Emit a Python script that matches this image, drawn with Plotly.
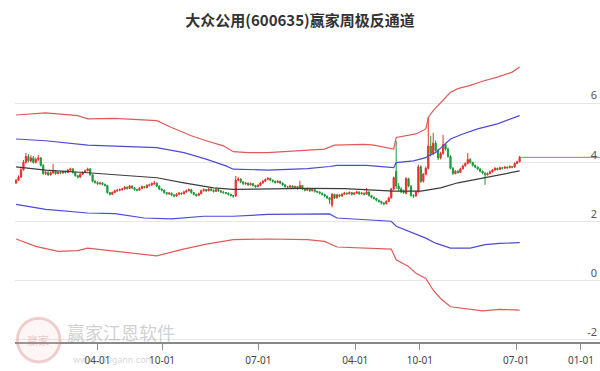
import pandas as pd
import plotly.graph_objects as go

# ---------------- data ----------------
start_week = "2021-08-13"
n_weeks = 205
week_dates = pd.date_range(start_week, periods=n_weeks, freq="7D")

open_ = [3.30,3.40,3.50,3.75,4.00,4.20,4.05,4.15,4.00,4.10,4.15,3.90,3.62,3.66,3.58,3.65,3.70,3.62,3.66,3.64,
         3.68,3.66,3.74,3.78,3.66,3.55,3.50,3.60,3.66,3.72,3.78,3.58,3.36,3.32,3.28,3.30,3.26,3.22,2.98,2.92,
         2.98,3.04,3.06,3.08,3.10,3.16,3.12,3.20,3.14,3.08,3.06,3.12,3.18,3.15,3.22,3.24,3.28,3.30,3.20,3.10,
         3.06,2.98,2.94,2.96,2.90,2.86,2.92,2.96,2.94,3.00,3.04,3.08,2.98,2.92,2.88,2.94,3.04,3.08,3.04,3.10,
         3.06,3.02,3.08,3.04,3.00,2.98,2.96,2.92,2.88,2.86,3.40,3.44,3.34,3.28,3.30,3.24,3.28,3.22,3.18,3.22,
         3.30,3.36,3.42,3.46,3.40,3.36,3.32,3.36,3.30,3.24,3.18,3.16,3.20,3.14,3.18,3.12,3.22,3.10,3.06,3.10,
         3.04,3.08,3.02,3.00,2.96,2.92,2.86,2.80,2.56,2.92,2.80,2.90,2.86,2.92,2.96,2.94,2.98,2.92,2.96,3.00,
         2.94,2.96,2.92,3.00,2.88,2.82,2.78,2.72,2.68,2.62,2.60,2.68,2.80,3.10,3.70,3.20,3.10,3.02,2.95,3.45,
         3.20,2.88,2.86,3.00,3.85,3.36,3.60,3.80,4.55,4.30,4.65,4.40,4.15,4.30,4.60,4.45,4.20,3.80,3.62,3.70,
         3.66,3.78,3.88,3.96,4.10,4.00,3.90,3.84,3.78,3.70,3.64,3.58,3.62,3.68,3.74,3.80,3.76,3.82,3.80,3.84,
         3.82,3.86,3.84,3.96,4.02]
high_ = [3.44,3.56,3.80,4.08,4.32,4.28,4.24,4.22,4.16,4.25,4.18,3.94,3.72,3.70,3.70,3.95,3.74,3.70,3.70,3.72,
         3.72,3.78,3.82,3.80,3.68,3.58,3.64,3.70,3.76,3.82,3.80,3.60,3.40,3.36,3.34,3.33,3.28,3.24,3.00,3.02,
         3.08,3.10,3.12,3.14,3.20,3.18,3.24,3.22,3.16,3.10,3.16,3.22,3.20,3.26,3.28,3.32,3.38,3.32,3.22,3.12,
         3.08,3.00,3.00,2.98,2.92,2.96,3.00,2.98,3.04,3.08,3.12,3.10,3.00,2.94,2.98,3.08,3.12,3.10,3.14,3.12,
         3.08,3.12,3.10,3.06,3.04,3.00,2.98,2.94,2.90,3.54,3.50,3.46,3.36,3.34,3.32,3.32,3.30,3.24,3.26,3.34,
         3.40,3.46,3.50,3.48,3.42,3.38,3.40,3.38,3.32,3.26,3.20,3.24,3.22,3.22,3.20,3.38,3.24,3.12,3.14,3.12,
         3.12,3.10,3.04,3.02,2.98,2.94,2.88,2.82,2.96,2.94,2.94,2.92,2.96,3.00,2.98,3.02,3.00,3.00,3.04,3.02,
         3.00,2.98,3.13,3.02,2.90,2.84,2.80,2.74,2.70,2.66,2.72,2.84,3.14,3.52,4.72,3.30,3.16,3.08,3.50,3.48,
         3.22,2.92,3.04,3.92,3.90,3.64,3.86,5.53,4.90,5.00,4.74,4.46,4.36,4.93,4.66,4.50,4.24,3.84,3.74,3.74,
         3.82,3.92,4.00,4.32,4.14,4.02,3.92,3.86,3.80,3.72,3.66,3.66,3.72,3.78,3.84,3.82,3.86,3.84,3.88,3.86,
         3.90,3.88,4.00,4.06,4.22]
low_ = [3.28,3.38,3.48,3.72,3.96,4.00,4.00,3.96,3.96,4.05,3.86,3.58,3.58,3.54,3.55,3.60,3.58,3.60,3.60,3.62,
        3.62,3.64,3.70,3.62,3.52,3.46,3.48,3.58,3.64,3.70,3.55,3.32,3.28,3.24,3.24,3.22,3.18,2.94,2.88,2.90,
        2.96,3.00,3.02,3.04,3.08,3.08,3.10,3.10,3.04,3.02,3.04,3.10,3.12,3.12,3.18,3.20,3.24,3.16,3.06,3.02,
        2.94,2.90,2.90,2.86,2.82,2.84,2.90,2.90,2.92,2.98,3.02,2.94,2.88,2.84,2.86,2.92,3.02,3.00,3.02,3.02,
        2.98,3.00,3.00,2.96,2.94,2.92,2.88,2.84,2.80,2.84,3.36,3.30,3.24,3.24,3.20,3.22,3.18,3.14,3.16,3.20,
        3.28,3.34,3.40,3.36,3.32,3.28,3.30,3.26,3.20,3.14,3.12,3.14,3.10,3.12,3.08,3.10,3.06,3.02,3.04,3.00,
        3.02,2.98,2.96,2.92,2.88,2.82,2.76,2.60,2.48,2.76,2.78,2.82,2.84,2.90,2.90,2.92,2.88,2.90,2.94,2.90,
        2.92,2.88,2.90,2.84,2.78,2.74,2.68,2.64,2.58,2.55,2.58,2.66,2.78,3.06,3.10,3.04,2.96,2.94,2.92,3.16,
        2.84,2.80,2.84,2.98,3.30,3.32,3.56,3.76,4.20,4.24,4.36,4.08,4.10,4.26,4.40,4.16,3.76,3.58,3.60,3.62,
        3.64,3.76,3.86,3.94,3.96,3.86,3.80,3.74,3.66,3.60,3.24,3.56,3.60,3.66,3.72,3.72,3.74,3.76,3.78,3.78,
        3.80,3.80,3.82,3.94,4.00]
close_ = [3.40,3.50,3.75,4.00,4.20,4.05,4.15,4.00,4.10,4.15,3.90,3.62,3.66,3.58,3.65,3.70,3.62,3.66,3.64,3.68,
          3.66,3.74,3.78,3.66,3.55,3.50,3.60,3.66,3.72,3.78,3.58,3.36,3.32,3.28,3.30,3.26,3.22,2.98,2.92,2.98,
          3.04,3.06,3.08,3.10,3.16,3.12,3.20,3.14,3.08,3.06,3.12,3.18,3.15,3.22,3.24,3.28,3.30,3.20,3.10,3.06,
          2.98,2.94,2.96,2.90,2.86,2.92,2.96,2.94,3.00,3.04,3.08,2.98,2.92,2.88,2.94,3.04,3.08,3.04,3.10,3.06,
          3.02,3.08,3.04,3.00,2.98,2.96,2.92,2.88,2.86,3.40,3.44,3.34,3.28,3.30,3.24,3.28,3.22,3.18,3.22,3.30,
          3.36,3.42,3.46,3.40,3.36,3.32,3.36,3.30,3.24,3.18,3.16,3.20,3.14,3.18,3.12,3.22,3.10,3.06,3.10,3.04,
          3.08,3.02,3.00,2.96,2.92,2.86,2.80,2.74,2.92,2.80,2.90,2.86,2.92,2.96,2.94,2.98,2.92,2.96,3.00,2.94,
          2.96,2.92,3.00,2.88,2.82,2.78,2.72,2.68,2.62,2.60,2.68,2.80,3.10,3.48,3.20,3.10,3.00,2.98,3.45,3.20,
          2.88,2.86,3.00,3.85,3.36,3.60,3.80,4.55,4.30,4.65,4.40,4.15,4.30,4.60,4.45,4.20,3.80,3.62,3.70,3.66,
          3.78,3.88,3.96,4.10,4.00,3.90,3.84,3.78,3.70,3.64,3.58,3.62,3.68,3.74,3.80,3.76,3.82,3.80,3.84,3.82,
          3.86,3.84,3.96,4.02,4.17]

# channel lines: (week index, value)
upper_red_wk = [0,12,25,29,40,52,57,63,71,77,84,88,94,102,114,125,129,141,145,153,154,158,162,166,167,169,172,176,179,184,189,195,201,204]
upper_red = [5.60,5.67,5.58,5.47,5.49,5.44,5.41,5.18,4.90,4.73,4.56,4.36,4.33,4.33,4.39,4.45,4.58,4.61,4.58,4.45,4.84,4.90,4.96,5.13,5.52,5.75,6.03,6.37,6.49,6.60,6.74,6.88,7.05,7.22]
upper_blue_wk = [0,12,29,40,57,68,77,85,88,102,118,127,130,142,153,154,161,166,167,170,173,176,181,187,195,204]
upper_blue = [4.79,4.73,4.58,4.54,4.50,4.33,4.11,3.88,3.77,3.74,3.79,3.86,3.90,3.90,3.82,3.99,4.05,4.16,4.22,4.33,4.56,4.79,4.96,5.13,5.30,5.58]
mid_wk = [0,12,29,45,57,68,80,88,102,118,133,149,153,164,172,179,189,196,204]
mid_line = [3.85,3.74,3.65,3.56,3.48,3.31,3.14,3.09,3.11,3.12,3.11,3.06,3.03,3.03,3.14,3.31,3.48,3.60,3.71]
lower_blue_wk = [0,12,29,40,52,63,76,88,102,118,127,130,142,152,154,161,166,170,176,184,190,196,204]
lower_blue = [2.58,2.41,2.29,2.27,2.12,2.09,2.18,2.18,2.24,2.26,2.26,2.12,2.07,2.01,1.84,1.62,1.44,1.27,1.10,1.10,1.22,1.26,1.29]
lower_red_wk = [0,8,17,25,29,40,52,57,67,76,88,102,118,125,130,142,152,154,159,162,166,169,172,176,184,189,196,204]
lower_red = [1.41,1.16,0.99,1.02,1.10,1.00,0.88,0.84,1.05,1.22,1.39,1.41,1.39,1.33,1.14,1.10,1.07,0.71,0.48,0.25,0.08,-0.32,-0.60,-0.88,-0.97,-1.02,-0.97,-0.99]

last_price = 4.17
last_line_end = "2026-02-24"

tick_dates = ["2022-04-01", "2022-10-01", "2023-07-01", "2024-04-01", "2024-10-01", "2025-07-01", "2026-01-01"]
tick_text = ["04-01", "10-01", "07-01", "04-01", "10-01", "07-01", "01-01"]
y_ticks = [-2, 0, 2, 4, 6, 8]
y_tick_text = ["-2", "0", "2", "4", "6", ""]

title = "大众公用(600635)赢家周极反通道"

# ---------------- figure ----------------
fig = go.Figure()

def band(wk, vals, color, width=1.2):
    fig.add_trace(go.Scatter(
        x=[week_dates[i] for i in wk], y=vals, mode="lines",
        line=dict(color=color, width=width), hoverinfo="skip", showlegend=False))

band(upper_red_wk, upper_red, "#e05a5a")
band(lower_red_wk, lower_red, "#e05a5a")
band(upper_blue_wk, upper_blue, "#4b4bd6")
band(lower_blue_wk, lower_blue, "#4b4bd6")
band(mid_wk, mid_line, "#3c3c3c")

fig.add_trace(go.Scatter(
    x=[week_dates[-1], pd.Timestamp(last_line_end)], y=[last_price, last_price],
    mode="lines", line=dict(color="#52aa52", width=1), showlegend=False, hoverinfo="skip"))

fig.add_trace(go.Candlestick(
    x=week_dates, open=open_, high=high_, low=low_, close=close_,
    increasing=dict(line=dict(color="#e8302a", width=1), fillcolor="#e8302a"),
    decreasing=dict(line=dict(color="#1e9a3c", width=1), fillcolor="#1e9a3c"),
    whiskerwidth=0, showlegend=False))

# watermark
fig.add_shape(type="circle", xref="paper", yref="paper",
              x0=0.004, x1=0.077, y0=-0.067, y1=0.08,
              line=dict(color="rgba(215,120,120,0.35)", width=3), fillcolor="rgba(240,205,205,0.18)")
fig.add_annotation(text="赢家", xref="paper", yref="paper", x=0.04, y=0.006,
                   xanchor="center", yanchor="middle", showarrow=False,
                   font=dict(family="Noto Sans CJK SC", size=11, color="rgba(200,110,110,0.35)"))
fig.add_annotation(text="赢家江恩软件", xref="paper", yref="paper", x=0.085, y=0.034,
                   xanchor="left", yanchor="middle", showarrow=False,
                   font=dict(family="Noto Sans CJK SC", size=18, color="rgba(150,150,150,0.45)"))
fig.add_annotation(text="www.360gann.com", xref="paper", yref="paper", x=0.095, y=-0.06,
                   xanchor="left", yanchor="middle", showarrow=False,
                   font=dict(family="Noto Sans", size=9, color="rgba(150,150,150,0.40)"))

fig.update_layout(
    width=600, height=371,
    margin=dict(l=15, r=0, t=44, b=29),
    paper_bgcolor="white", plot_bgcolor="white",
    title=dict(text=title, x=0.5, xanchor="center", y=0.945, yanchor="middle",
               font=dict(family="Noto Sans CJK SC", size=15, color="#333333", weight="bold")),
    xaxis=dict(type="date", range=["2021-08-10", last_line_end],
               tickvals=tick_dates, ticktext=tick_text,
               showgrid=False, showline=True, linecolor="#8a8a8a", linewidth=1.5,
               ticks="outside", ticklen=6, tickcolor="#8a8a8a", ticklabelstandoff=2,
               tickfont=dict(family="Noto Sans", size=10, color="#444444"),
               rangeslider=dict(visible=False), zeroline=False),
    yaxis=dict(range=[-2.07, 8.0], side="right", tickvals=y_ticks, ticktext=y_tick_text,
               ticklabelposition="inside top", showgrid=True, gridcolor="#e6e6e6", gridwidth=1,
               zeroline=False, showline=False,
               tickfont=dict(family="Noto Sans", size=11, color="#555555")),
)

fig.write_html("out.html")
